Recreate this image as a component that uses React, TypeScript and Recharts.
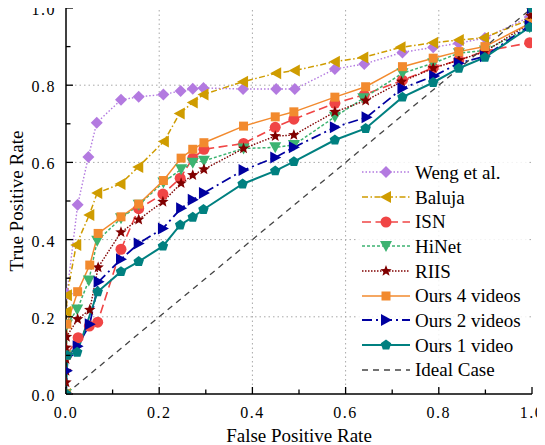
import React from 'react';
import { LineChart, Line, XAxis, YAxis, ReferenceLine, Legend } from 'recharts';

// FPR / TPR pairs
const weng = [[0,0],[0.002,0.26],[0.025,0.49],[0.048,0.614],[0.066,0.703],[0.118,0.762],[0.156,0.77],[0.209,0.776],[0.246,0.785],[0.272,0.791],[0.295,0.793],[0.38,0.79],[0.451,0.79],[0.491,0.79],[0.577,0.842],[0.64,0.855],[0.722,0.885],[0.788,0.898],[0.843,0.909],[0.899,0.922],[0.995,0.977],[1,1]];
const baluja = [[0,0],[0.001,0.213],[0.002,0.256],[0.022,0.386],[0.05,0.464],[0.067,0.521],[0.117,0.544],[0.155,0.588],[0.21,0.654],[0.244,0.727],[0.272,0.755],[0.295,0.776],[0.38,0.809],[0.451,0.831],[0.491,0.838],[0.577,0.861],[0.638,0.872],[0.718,0.898],[0.788,0.91],[0.843,0.917],[0.897,0.923],[0.995,0.97],[1,1]];
const isn = [[0,0],[0.001,0.1],[0.026,0.146],[0.05,0.176],[0.068,0.186],[0.118,0.375],[0.156,0.48],[0.208,0.518],[0.245,0.559],[0.272,0.611],[0.296,0.634],[0.381,0.649],[0.449,0.691],[0.489,0.712],[0.577,0.753],[0.64,0.775],[0.722,0.813],[0.788,0.845],[0.843,0.865],[0.899,0.888],[0.995,0.91]];
const hinet = [[0,0],[0.001,0.1],[0.002,0.18],[0.024,0.219],[0.049,0.294],[0.067,0.397],[0.118,0.455],[0.156,0.49],[0.209,0.548],[0.247,0.582],[0.272,0.599],[0.296,0.604],[0.381,0.636],[0.449,0.639],[0.489,0.645],[0.577,0.718],[0.638,0.766],[0.722,0.831],[0.788,0.857],[0.843,0.883],[0.899,0.89],[0.995,0.95],[1,1]];
const riis = [[0,0],[0,0.03],[0,0.06],[0,0.09],[0,0.12],[0.001,0.148],[0.025,0.194],[0.051,0.218],[0.069,0.328],[0.118,0.419],[0.156,0.452],[0.208,0.498],[0.247,0.546],[0.272,0.567],[0.296,0.582],[0.381,0.636],[0.449,0.668],[0.489,0.671],[0.577,0.731],[0.643,0.76],[0.72,0.809],[0.788,0.844],[0.843,0.865],[0.899,0.887],[0.995,0.96],[0.997,0.98],[1,1]];
const ours4 = [[0,0],[0,0.1],[0.002,0.181],[0.025,0.265],[0.051,0.334],[0.069,0.416],[0.118,0.459],[0.156,0.492],[0.209,0.553],[0.247,0.611],[0.272,0.634],[0.296,0.651],[0.381,0.694],[0.449,0.718],[0.489,0.731],[0.577,0.769],[0.643,0.796],[0.722,0.848],[0.788,0.87],[0.843,0.887],[0.899,0.9],[0.995,0.96],[1,1]];
const ours2 = [[0,0],[0.002,0.06],[0.004,0.1],[0.025,0.124],[0.051,0.181],[0.07,0.291],[0.118,0.349],[0.156,0.39],[0.208,0.429],[0.247,0.481],[0.272,0.503],[0.296,0.521],[0.381,0.58],[0.449,0.613],[0.489,0.639],[0.577,0.691],[0.645,0.717],[0.722,0.792],[0.79,0.824],[0.843,0.857],[0.899,0.875],[0.995,0.955],[1,1]];
const ours1 = [[0,0],[0.003,0.1],[0.024,0.108],[0.068,0.265],[0.118,0.317],[0.156,0.343],[0.208,0.383],[0.245,0.438],[0.272,0.458],[0.295,0.478],[0.379,0.544],[0.449,0.578],[0.489,0.602],[0.577,0.658],[0.643,0.688],[0.722,0.769],[0.788,0.807],[0.843,0.844],[0.899,0.872],[0.995,0.95],[1,1]];
const ideal = [[0,0],[1,1]];

const TICKS = [0, 0.1, 0.2, 0.3, 0.4, 0.5, 0.6, 0.7, 0.8, 0.9, 1];
const GRID = [0.2, 0.4, 0.6, 0.8];

const SERIES = [
  { name: 'Weng et al.', data: weng, color: '#b37ae0', dash: '1.5 2', shape: 'diamond', width: 1.4 },
  { name: 'Baluja', data: baluja, color: '#cf9c00', dash: '6 2.5 1.5 2.5', shape: 'tleft', width: 1.5 },
  { name: 'ISN', data: isn, color: '#f04545', dash: '9 4.5', shape: 'circle', width: 1.6 },
  { name: 'HiNet', data: hinet, color: '#3cb371', dash: '3 2', shape: 'tdown', width: 1.5 },
  { name: 'RIIS', data: riis, color: '#800000', dash: '1.5 1.5', shape: 'star', width: 1.4 },
  { name: 'Ours 4 videos', data: ours4, color: '#f28a2e', dash: undefined, shape: 'square', width: 1.5 },
  { name: 'Ours 2 videos', data: ours2, color: '#0000a0', dash: '10 4 2 4', shape: 'tright', width: 1.8 },
  { name: 'Ours 1 video', data: ours1, color: '#008080', dash: undefined, shape: 'pentagon', width: 2 },
];

const FONT = 'Liberation Serif, serif';
const isMajor = (v: number) => Math.round(v * 10) % 2 === 0;

const poly = (pts: number[][]) => pts.map((p) => p.join(',')).join(' ');

const Mark = ({ shape, cx, cy, color }: any) => {
  if (cx == null || cy == null) return null;
  switch (shape) {
    case 'diamond':
      return <polygon points={poly([[cx, cy - 6], [cx + 6, cy], [cx, cy + 6], [cx - 6, cy]])} fill={color} />;
    case 'tleft':
      return <polygon points={poly([[cx - 6, cy], [cx + 5, cy - 6], [cx + 5, cy + 6]])} fill={color} />;
    case 'tright':
      return <polygon points={poly([[cx + 6, cy], [cx - 5, cy - 6], [cx - 5, cy + 6]])} fill={color} />;
    case 'tdown':
      return <polygon points={poly([[cx - 6, cy - 5], [cx + 6, cy - 5], [cx, cy + 6]])} fill={color} />;
    case 'circle':
      return <circle cx={cx} cy={cy} r={5.5} fill={color} />;
    case 'square':
      return <rect x={cx - 4.5} y={cy - 4.5} width={9} height={9} fill={color} />;
    case 'star': {
      const pts: number[][] = [];
      for (let i = 0; i < 10; i++) {
        const r = i % 2 === 0 ? 6 : 2.6;
        const a = -Math.PI / 2 + (i * Math.PI) / 5;
        pts.push([cx + r * Math.cos(a), cy + r * Math.sin(a)]);
      }
      return <polygon points={poly(pts)} fill={color} />;
    }
    case 'pentagon': {
      const pts: number[][] = [];
      for (let i = 0; i < 5; i++) {
        const a = -Math.PI / 2 + (i * 2 * Math.PI) / 5;
        pts.push([cx + 5.5 * Math.cos(a), cy + 5.5 * Math.sin(a)]);
      }
      return <polygon points={poly(pts)} fill={color} />;
    }
    default:
      return null;
  }
};

const BottomTick = ({ x, y, payload }: any) => {
  const major = isMajor(payload.value);
  return (
    <g>
      <line x1={x} x2={x} y1={y} y2={y - (major ? 7 : 4.5)} stroke="#000" strokeWidth={1.3} />
      {major && (
        <text x={x} y={y + 23.5} textAnchor="middle" fontSize={16} fontFamily={FONT} letterSpacing={1.5} fill="#000">
          {payload.value.toFixed(1)}
        </text>
      )}
    </g>
  );
};

const LeftTick = ({ x, y, payload }: any) => {
  const major = isMajor(payload.value);
  return (
    <g>
      <line x1={x} x2={x + (major ? 7 : 4.5)} y1={y} y2={y} stroke="#000" strokeWidth={1.3} />
      {major && (
        <text x={x - 10} y={y + 7} textAnchor="end" fontSize={16} fontFamily={FONT} letterSpacing={1.5} fill="#000">
          {payload.value.toFixed(1)}
        </text>
      )}
    </g>
  );
};

const TopTick = ({ x, y, payload }: any) => (
  <line x1={x} x2={x} y1={y} y2={y + (isMajor(payload.value) ? 7 : 4.5)} stroke="#000" strokeWidth={1.3} />
);

const RightTick = ({ x, y, payload }: any) => (
  <line x1={x} x2={x - (isMajor(payload.value) ? 7 : 4.5)} y1={y} y2={y} stroke="#000" strokeWidth={1.3} />
);

const LegendBox = () => (
  <div style={{ background: 'rgba(255,255,255,0.85)', padding: '4px 6px', fontFamily: FONT, fontSize: 19 }}>
    {SERIES.map((s) => (
      <div key={s.name} style={{ display: 'flex', alignItems: 'center', height: 24.7 }}>
        <svg width={48} height={20}>
          <line x1={0} x2={48} y1={10} y2={10} stroke={s.color} strokeWidth={s.width} strokeDasharray={s.dash} />
          <Mark shape={s.shape} cx={24} cy={10} color={s.color} />
        </svg>
        <span style={{ marginLeft: 5, color: '#000', lineHeight: 1 }}>{s.name}</span>
      </div>
    ))}
    <div style={{ display: 'flex', alignItems: 'center', height: 24.7 }}>
      <svg width={48} height={20}>
        <line x1={0} x2={48} y1={10} y2={10} stroke="#444" strokeWidth={1.3} strokeDasharray="6 5" />
      </svg>
      <span style={{ marginLeft: 5, color: '#000', lineHeight: 1 }}>Ideal Case</span>
    </div>
  </div>
);

const toRows = (pts: number[][]) => pts.map(([x, y]) => ({ x, y }));

export default function App() {
  const axisLine = { stroke: '#000', strokeWidth: 1.5 };
  return (
    <div>
      <style>{'.recharts-surface { overflow: visible; }'}</style>
      <LineChart width={537} height={437} margin={{ top: 0, right: 13, bottom: 0, left: 0 }}>
        <XAxis
          dataKey="x"
          type="number"
          domain={[0, 1]}
          ticks={TICKS}
          interval={0}
          allowDataOverflow
          height={51}
          tickSize={0}
          tickMargin={0}
          tickLine={false}
          tick={<BottomTick />}
          axisLine={axisLine}
          label={{ value: 'False Positive Rate', position: 'insideBottom', offset: 3, fontSize: 19, fontFamily: FONT, fill: '#000' }}
        />
        <YAxis
          type="number"
          domain={[0, 1]}
          ticks={TICKS}
          interval={0}
          allowDataOverflow
          width={58}
          tickSize={0}
          tickMargin={0}
          tickLine={false}
          tick={<LeftTick />}
          axisLine={axisLine}
          label={{ value: 'True Positive Rate', angle: -90, position: 'insideLeft', offset: 8, fontSize: 19, fontFamily: FONT, fill: '#000', style: { textAnchor: 'middle' } }}
        />
        <XAxis
          xAxisId="top"
          orientation="top"
          type="number"
          domain={[0, 1]}
          ticks={TICKS}
          interval={0}
          allowDataOverflow
          height={0}
          tickSize={0}
          tickMargin={0}
          tickLine={false}
          tick={<TopTick />}
          axisLine={axisLine}
        />
        <YAxis
          yAxisId="right"
          orientation="right"
          type="number"
          domain={[0, 1]}
          ticks={TICKS}
          interval={0}
          allowDataOverflow
          width={0}
          tickSize={0}
          tickMargin={0}
          tickLine={false}
          tick={<RightTick />}
          axisLine={axisLine}
        />
        {GRID.map((g) => (
          <ReferenceLine key={`gx-${g}`} x={g} stroke="#a8a8a8" strokeDasharray="1.5 3" strokeWidth={1} />
        ))}
        {GRID.map((g) => (
          <ReferenceLine key={`gy-${g}`} y={g} stroke="#a8a8a8" strokeDasharray="1.5 3" strokeWidth={1} />
        ))}
        {SERIES.map((s) => (
          <Line
            key={s.name}
            data={toRows(s.data)}
            dataKey="y"
            name={s.name}
            type="linear"
            stroke={s.color}
            strokeWidth={s.width}
            strokeDasharray={s.dash}
            dot={(p: any) => <Mark key={`${s.name}-${p.index}`} shape={s.shape} cx={p.cx} cy={p.cy} color={s.color} />}
            activeDot={false}
            isAnimationActive={false}
          />
        ))}
        <Line
          data={toRows(ideal)}
          dataKey="y"
          name="Ideal Case"
          type="linear"
          stroke="#444"
          strokeWidth={1.3}
          strokeDasharray="6 5"
          dot={false}
          activeDot={false}
          isAnimationActive={false}
        />
        <Legend
          layout="vertical"
          align="center"
          verticalAlign="middle"
          content={<LegendBox />}
          wrapperStyle={{ left: 348, top: 148, width: 172, height: 'auto' }}
        />
      </LineChart>
    </div>
  );
}
